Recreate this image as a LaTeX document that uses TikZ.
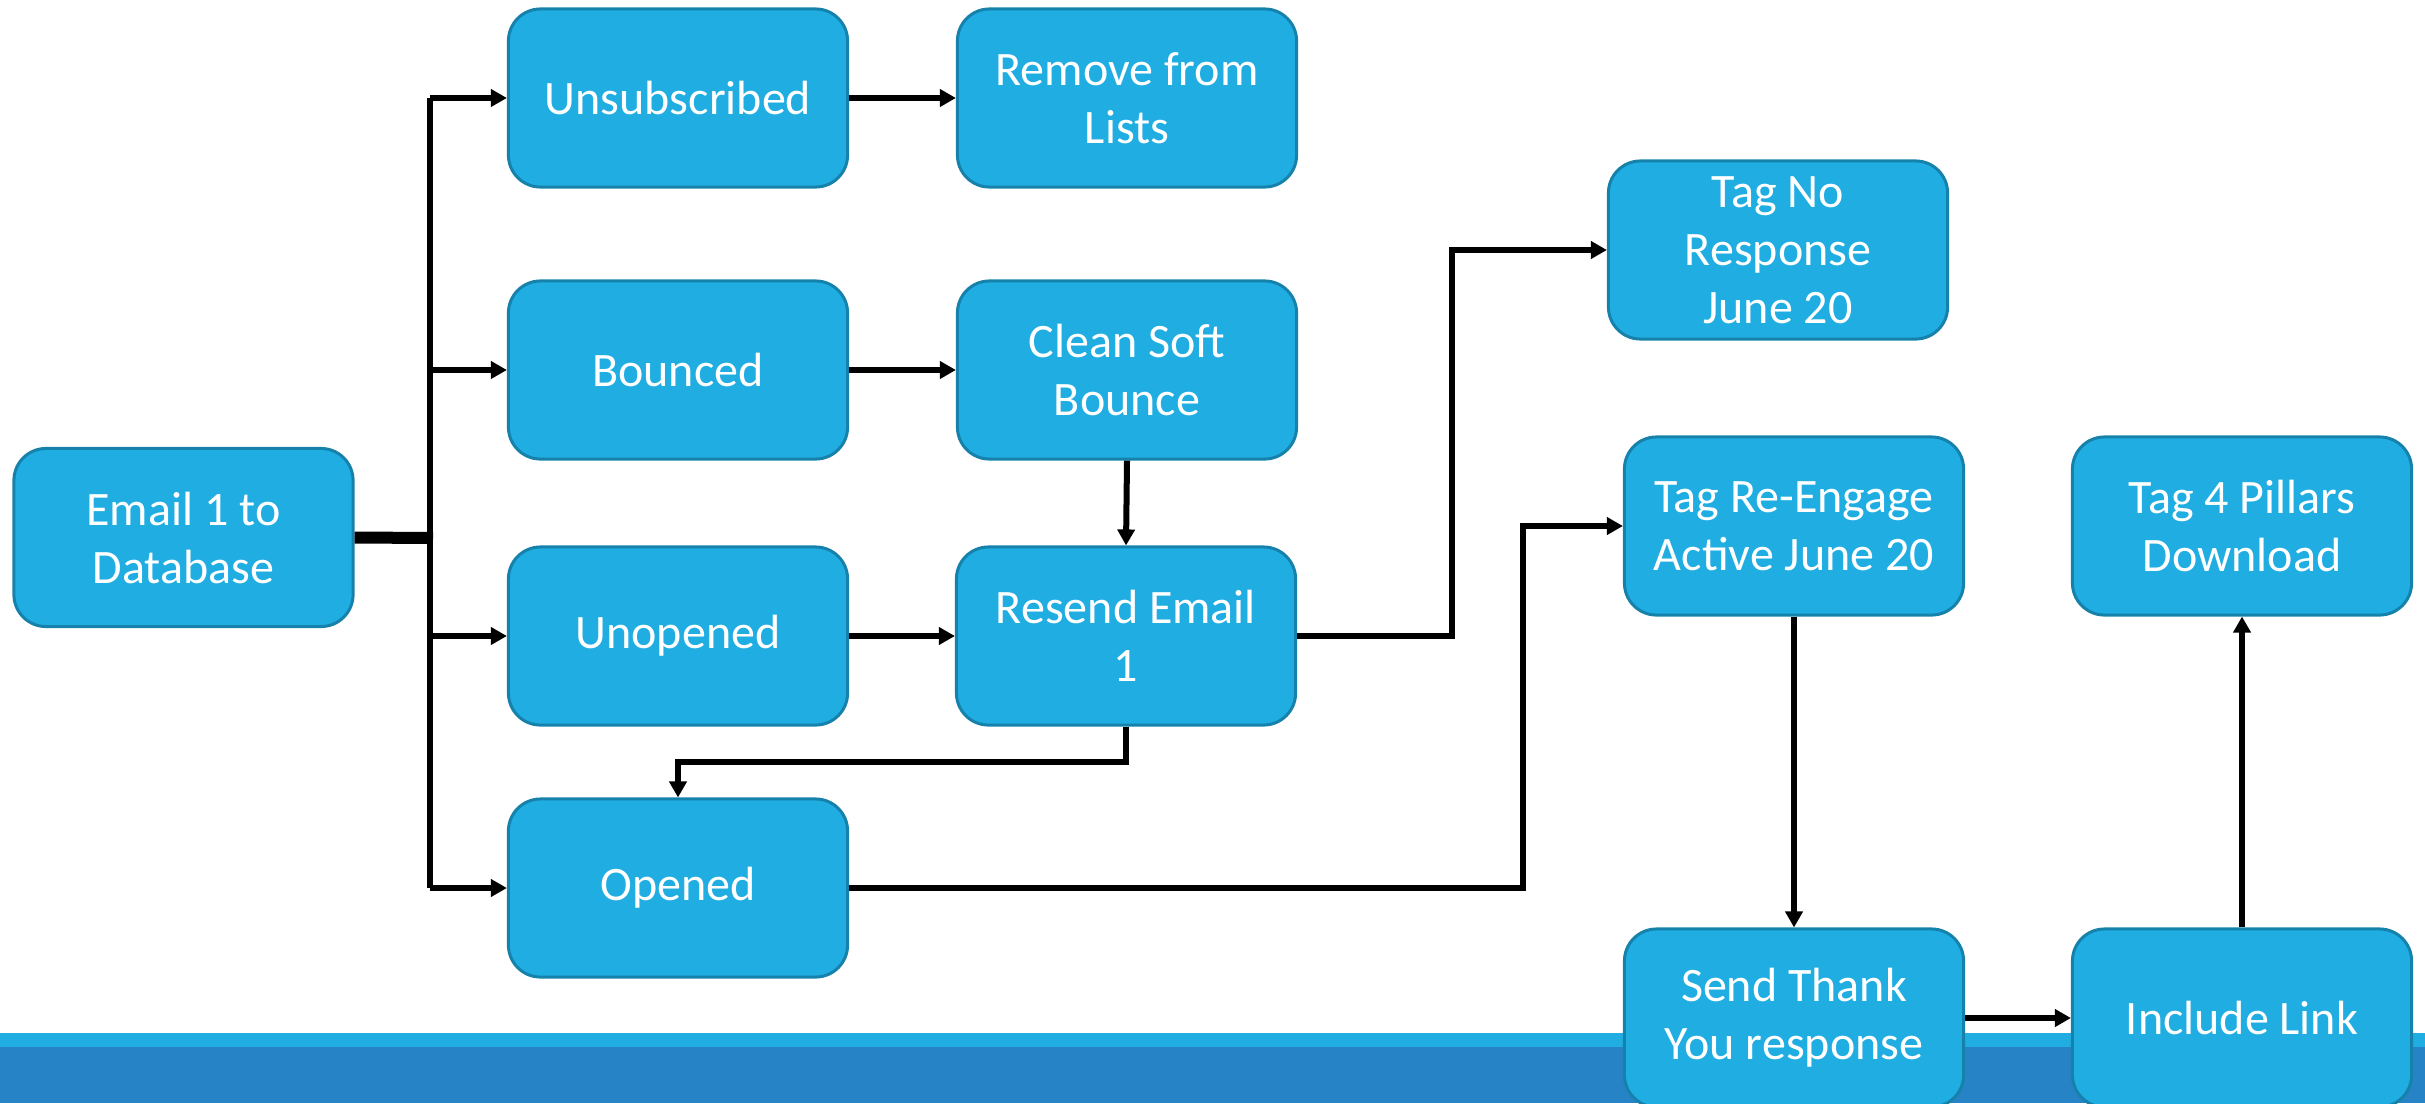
\documentclass[tikz,border=0pt]{standalone}
\usepackage{fontspec}
\setmainfont{Carlito}
\usetikzlibrary{arrows.meta}
\definecolor{boxfill}{RGB}{31,173,226}
\definecolor{boxedge}{RGB}{22,130,172}
\definecolor{bandlight}{RGB}{31,173,226}
\definecolor{banddark}{RGB}{38,131,198}
\tikzset{
  flowbox/.style={rectangle, rounded corners=0.32cm, fill=boxfill, draw=boxedge,
    line width=0.03cm, minimum width=3.39cm, minimum height=1.78cm,
    text=white, align=center, inner sep=0pt,
    font=\fontsize{13.66}{16.5}\selectfont},
  conn/.style={draw=black, line width=0.06cm},
  arr/.style={conn, -{Triangle[length=0.16cm,width=0.17cm]}},
  thickconn/.style={draw=black, line width=0.12cm}
}
\begin{document}
\begin{tikzpicture}[x=0.01cm,y=-0.01cm]
\useasboundingbox (0,0) rectangle (2425,1103);
% bottom band
\fill[bandlight] (0,1033) rectangle (2425,1047);
\fill[banddark] (0,1047) rectangle (2425,1103);

% nodes
\node[flowbox] (email)    at (183.5,537.5) {Email 1 to\\Database};
\node[flowbox] (unsub)    at (678,98)  {Unsubscribed};
\node[flowbox] (remove)   at (1127,98) {Remove from\\Lists};
\node[flowbox] (bounced)  at (678,370) {Bounced};
\node[flowbox] (clean)    at (1127,370) {Clean Soft\\Bounce};
\node[flowbox] (unopened) at (678,636) {Unopened};
\node[flowbox] (resend)   at (1126,636) {Resend Email\\1};
\node[flowbox] (opened)   at (678,888) {Opened};
\node[flowbox] (tagno)    at (1778,250) {Tag No\\Response\\June 20};
\node[flowbox] (tagre)    at (1794,526) {Tag Re-Engage\\Active June 20};
\node[flowbox] (tagfour)  at (2242,526) {Tag 4 Pillars\\Download};
\node[flowbox] (send)     at (1794,1018) {Send Thank\\You response};
\node[flowbox] (include)  at (2242,1018) {Include Link};

% bus coordinates
\coordinate (btop) at (430,98);
\coordinate (bbot) at (430,888);
\coordinate (bjoin) at (433,538);
\coordinate (c1) at (1452,400);
\coordinate (c2) at (900,762);
\coordinate (c3) at (1523,700);

% connectors
\draw[thickconn] (email.east) -- (bjoin);
\draw[conn] (btop) -- (bbot);
\draw[arr] (btop) -- (unsub.west);
\draw[arr] (btop |- bounced.west) -- (bounced.west);
\draw[arr] (btop |- unopened.west) -- (unopened.west);
\draw[arr] (bbot) -- (opened.west);
\draw[arr] (unsub.east) -- (remove.west);
\draw[arr] (bounced.east) -- (clean.west);
\draw[arr] (clean.south) -- (resend.north);
\draw[arr] (unopened.east) -- (resend.west);
\draw[arr] (resend.east) -| (c1) |- (tagno.west);
\draw[arr] (resend.south) |- (c2) -| (opened.north);
\draw[arr] (opened.east) -| (c3) |- (tagre.west);
\draw[arr] (tagre.south) -- (send.north);
\draw[arr] (send.east) -- (include.west);
\draw[arr] (include.north) -- (tagfour.south);
\end{tikzpicture}
\end{document}
